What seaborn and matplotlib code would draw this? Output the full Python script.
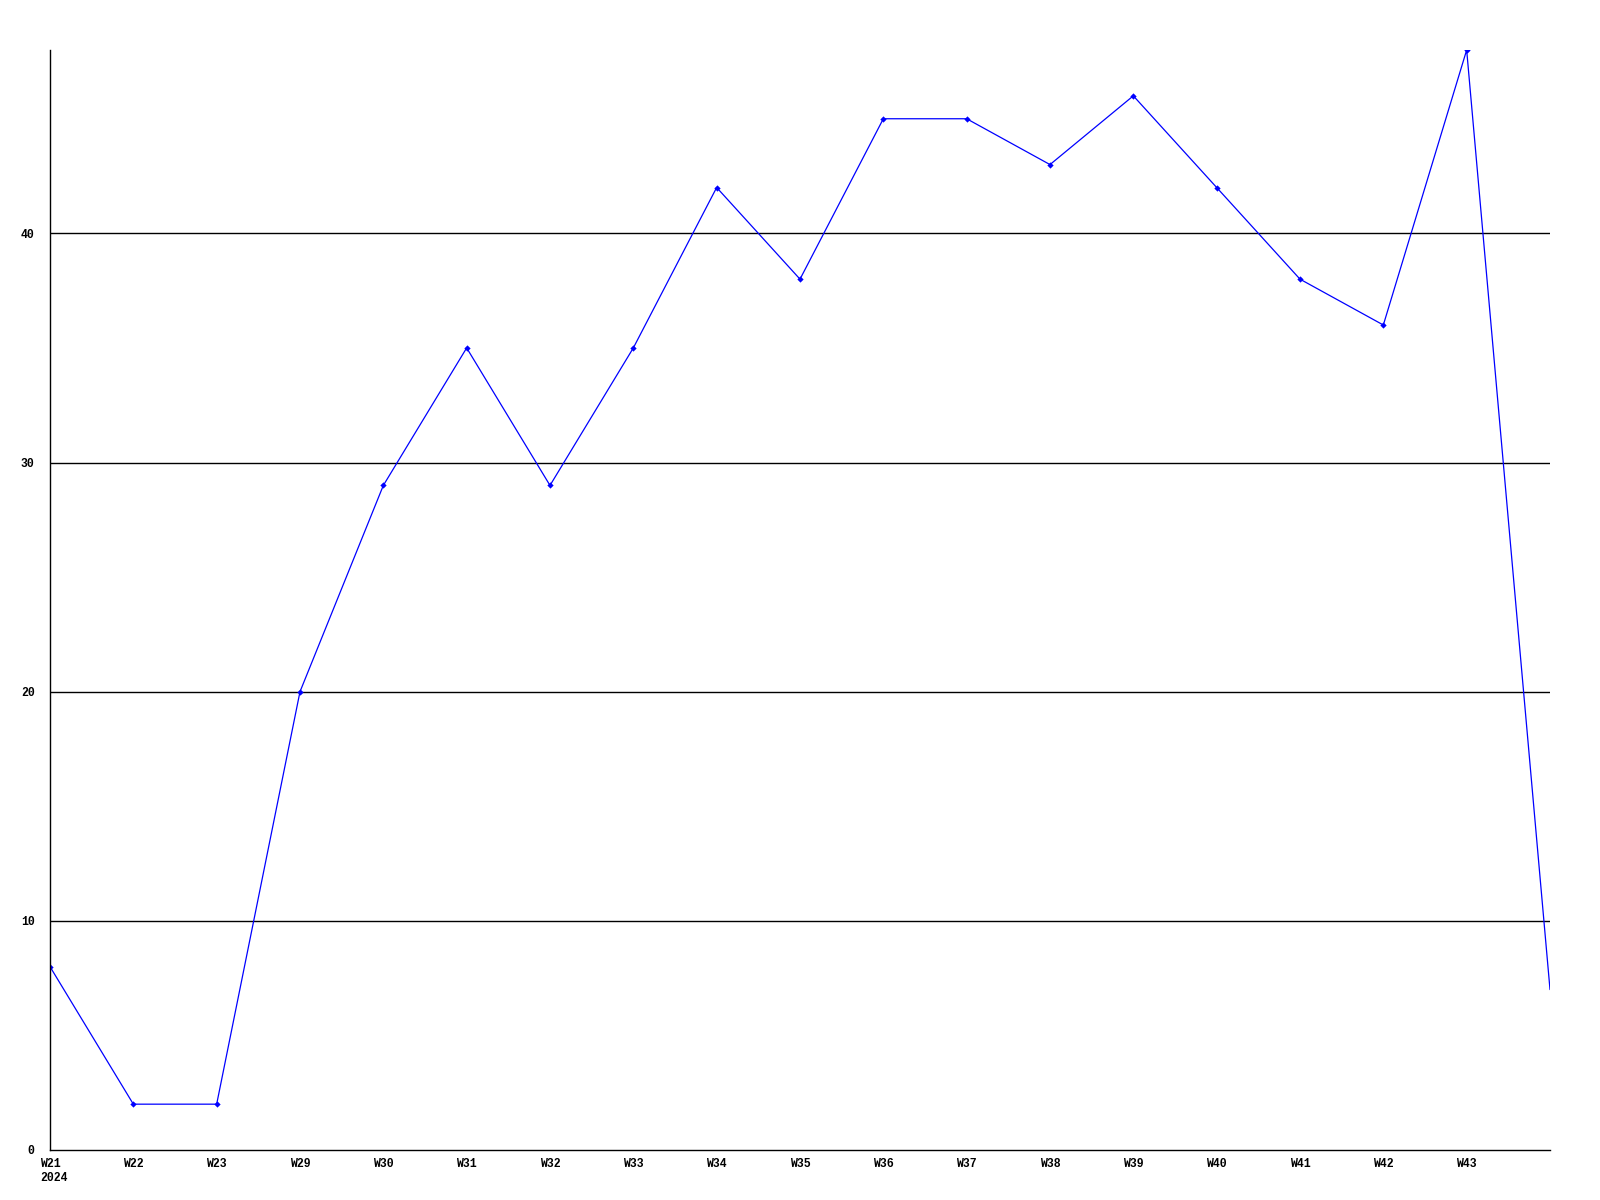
import matplotlib
matplotlib.use("Agg")
import matplotlib.pyplot as plt
import seaborn as sns
import pandas as pd

weeks = ["W21", "W22", "W23", "W29", "W30", "W31", "W32", "W33", "W34",
         "W35", "W36", "W37", "W38", "W39", "W40", "W41", "W42", "W43", ""]
values = [8, 2, 2, 20, 29, 35, 29, 35, 42, 38, 45, 45, 43, 46, 42, 38, 36, 48, 7]
yticks = [0, 10, 20, 30, 40]
year_label = "2024"

sns.set_style("white")
plt.rcParams['font.family'] = ['Liberation Mono', 'DejaVu Sans Mono']

df = pd.DataFrame({"idx": list(range(len(values))), "value": values})

fig = plt.figure(figsize=(16, 12), dpi=100)
ax = fig.add_axes([50/1600, 50/1200, 1500/1600, 1100/1200])

sns.lineplot(data=df, x="idx", y="value", ax=ax, color="#0000ff", linewidth=0.9,
             marker="D", markersize=3.2, markeredgewidth=0,
             markevery=list(range(len(values) - 1)))

for y in yticks[1:]:
    ax.axhline(y, color="black", linewidth=1.0, zorder=0)

ax.set_xlim(0, len(values) - 1)
ax.set_ylim(0, 48)
ax.set_xticks(list(range(len(values) - 1)))
ax.set_xticklabels(weeks[:-1], fontsize=8.3, fontweight="bold", color="black")
ax.set_yticks(yticks)
ax.set_yticklabels([str(v) for v in yticks], fontsize=8.3, fontweight="bold", color="black")
ax.tick_params(axis="x", length=0, pad=6)
ax.tick_params(axis="y", length=0, pad=11)
ax.set_xlabel("")
ax.set_ylabel("")

for s in ["top", "right"]:
    ax.spines[s].set_visible(False)
for s in ["left", "bottom"]:
    ax.spines[s].set_color("black")
    ax.spines[s].set_linewidth(1.0)

ax.annotate(year_label, xy=(0, 0), xycoords="data", xytext=(-10, -22),
            textcoords="offset pixels", ha="left", va="top",
            fontsize=8.3, fontweight="bold", color="black")

fig.savefig("out.png", dpi=100, facecolor="white")
